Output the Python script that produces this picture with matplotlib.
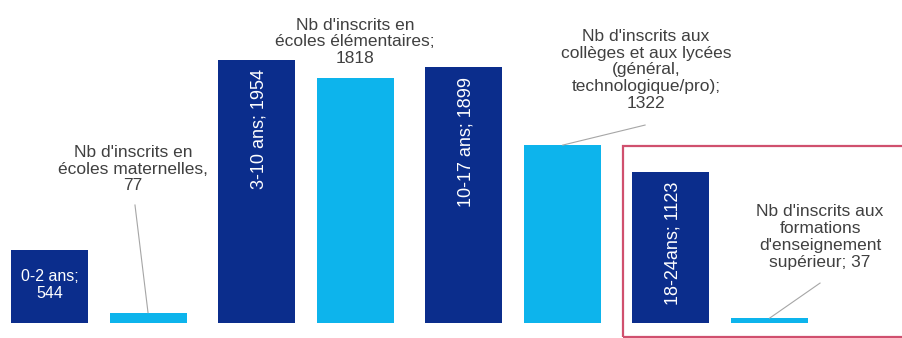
import matplotlib
matplotlib.use("Agg")
import matplotlib.pyplot as plt
import numpy as np
from matplotlib.patches import Rectangle

plt.rcParams["font.family"] = ["Liberation Sans", "DejaVu Sans"]

# Population by age group and enrolment counts
age_labels = ["0-2 ans;\n544", "3-10 ans; 1954", "10-17 ans; 1899", "18-24ans; 1123"]
age_values = [544, 1954, 1899, 1123]
enrol_labels = [
    "Nb d'inscrits en\nécoles maternelles,\n77",
    "Nb d'inscrits en\nécoles élémentaires;\n1818",
    "Nb d'inscrits aux\ncollèges et aux lycées\n(général,\ntechnologique/pro);\n1322",
    "Nb d'inscrits aux\nformations\nd'enseignement\nsupérieur; 37",
]
enrol_values = [77, 1818, 1322, 37]

DARK = "#0b2d8c"
LIGHT = "#0db4ec"
FS = 12.5

fig = plt.figure(figsize=(9.02, 3.38), dpi=100)
ax = fig.add_axes([0, 0, 1, 1])
ax.set_xlim(-0.478, 3.879)
ax.set_ylim(-111, 2400)
ax.axis("off")

x = np.arange(len(age_values))
off = 0.237
w = 0.372
ax.bar(x - off, age_values, width=w, color=DARK)
ax.bar(x + off, enrol_values, width=w, color=LIGHT)

# labels inside the dark bars
ax.text(x[0] - off, age_values[0] / 2 + 10, age_labels[0], color="white",
        ha="center", va="center", fontsize=FS - 1, linespacing=1.1)
for i in range(1, 4):
    v = age_values[i]
    ax.text(x[i] - off + 0.01, v - 70, age_labels[i], color="white", rotation=90,
            ha="center", va="top", fontsize=FS + 0.5)

# callout labels for the light bars: (text x, text y, leader start, leader end)
callouts = [
    (0.164, 1144, (0.174, 877), (x[0] + off, enrol_values[0])),
    (x[1] + off, 2088, None, None),
    (2.643, 1880, (2.638, 1471), (2.24, enrol_values[2])),
    (3.483, 639, (3.483, 297), (3.24, enrol_values[3])),
]
for lbl, (tx, ty, p0, p1) in zip(enrol_labels, callouts):
    ax.text(tx, ty, lbl, color="#404040", ha="center", va="center",
            fontsize=FS, linespacing=1.15)
    if p0 is not None:
        ax.plot([p0[0], p1[0]], [p0[1], p1[1]], color="#a6a6a6", lw=0.8)

# highlight frame around the last group
ax.add_patch(Rectangle((x[3] - off - w / 2 - 0.045, -104), 1.5, 1419,
                       fill=False, edgecolor="#d0506e", lw=1.6, clip_on=True))

fig.savefig("out.png", dpi=100)
